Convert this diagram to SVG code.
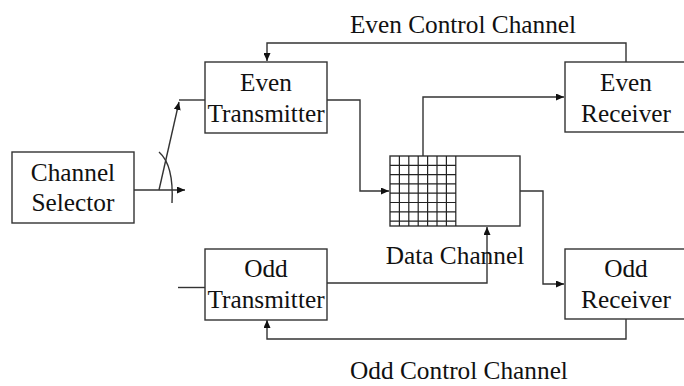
<svg xmlns="http://www.w3.org/2000/svg" width="684" height="386" viewBox="0 0 684 386">
<defs>
<marker id="ah" markerUnits="userSpaceOnUse" markerWidth="9" markerHeight="7" refX="8" refY="3.5" orient="auto">
<path d="M0,0 L8,3.5 L0,7 Z" fill="#111"/>
</marker>
</defs>
<style>
.box{fill:#fff;stroke:#333;stroke-width:1.4}
.ln{fill:none;stroke:#333;stroke-width:1.4}
.grid{fill:none;stroke:#222;stroke-width:1.2}
text{font-family:"Liberation Serif","Times New Roman",serif;font-size:25.3px;fill:#111;text-anchor:middle}
</style>
<rect width="684" height="386" fill="#fff"/>
<g id="connectors">
<path class="ln" d="M626,62 V43 H267 V61" marker-end="url(#ah)"/>
<path class="ln" d="M626,319 V339 H267 V320" marker-end="url(#ah)"/>
<path class="ln" d="M327,100 H360 V191 H389" marker-end="url(#ah)"/>
<path class="ln" d="M423,156 V97 H564" marker-end="url(#ah)"/>
<path class="ln" d="M520,191 H543 V284 H564" marker-end="url(#ah)"/>
<path class="ln" d="M327,283 H487 V227" marker-end="url(#ah)"/>
<path class="ln" d="M178,287.5 H205"/>
<path class="ln" d="M134,190 H185" marker-end="url(#ah)"/>
<path class="ln" d="M159,190 L179,102" marker-end="url(#ah)"/>
<path class="ln" d="M179,100 H205"/>
<path class="ln" d="M159,152 Q174,165 172,203"/>
</g>
<g id="channel-selector">
<rect class="box" x="12" y="152" width="122" height="71"/>
<text x="73" y="181" font-family="Liberation Serif, serif">Channel</text>
<text x="73" y="211" font-family="Liberation Serif, serif">Selector</text>
</g>
<g id="even-transmitter">
<rect class="box" x="205" y="62" width="122" height="71"/>
<text x="266" y="91" font-family="Liberation Serif, serif">Even</text>
<text x="266" y="122" font-family="Liberation Serif, serif">Transmitter</text>
</g>
<g id="odd-transmitter">
<rect class="box" x="205" y="249" width="122" height="71"/>
<text x="266" y="277" font-family="Liberation Serif, serif">Odd</text>
<text x="266" y="308" font-family="Liberation Serif, serif">Transmitter</text>
</g>
<g id="even-receiver">
<rect class="box" x="565" y="62" width="122" height="70"/>
<text x="626" y="91" font-family="Liberation Serif, serif">Even</text>
<text x="626" y="122" font-family="Liberation Serif, serif">Receiver</text>
</g>
<g id="odd-receiver">
<rect class="box" x="565" y="249" width="122" height="70"/>
<text x="626" y="277" font-family="Liberation Serif, serif">Odd</text>
<text x="626" y="308" font-family="Liberation Serif, serif">Receiver</text>
</g>
<g id="data-channel">
<rect class="box" x="390" y="156" width="130" height="70"/>
<path class="grid" d="M399.4,156 V226 M408.8,156 V226 M418.2,156 V226 M427.6,156 V226 M437,156 V226 M446.4,156 V226 M455.8,156 V226 M390,165.3 H455.8 M390,174.6 H455.8 M390,183.9 H455.8 M390,193.2 H455.8 M390,202.5 H455.8 M390,211.8 H455.8 M390,221.1 H455.8"/>
<text x="455" y="264" font-family="Liberation Serif, serif">Data Channel</text>
</g>
<g id="labels">
<text x="463" y="33" font-family="Liberation Serif, serif">Even Control Channel</text>
<text x="459" y="379" font-family="Liberation Serif, serif">Odd Control Channel</text>
</g>
</svg>
